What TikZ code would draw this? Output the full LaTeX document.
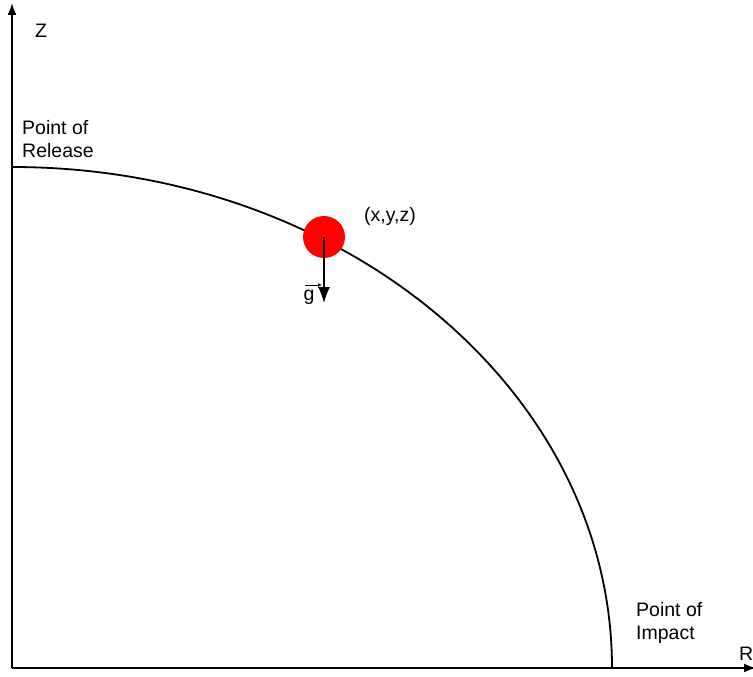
\documentclass[tikz,border=0pt]{standalone}
\usepackage{amsmath}
\usepackage{fontspec}
\setmainfont{Liberation Sans}
\usetikzlibrary{arrows.meta}
\tikzset{
  axis/.style={line width=1.8pt,-{Latex[length=12pt,width=9pt]}},
  path line/.style={line width=1.8pt},
  lbl/.style={font=\fontsize{19.5}{23.5}\selectfont,inner sep=0pt},
}
\begin{document}
\begin{tikzpicture}[x=1pt,y=-1pt]
\useasboundingbox (0,0) rectangle (753,677);
\coordinate (O) at (12,668);
\coordinate (Ztop) at (12,3);
\coordinate (Rend) at (756,668);
\coordinate (Rel) at (12,167);
\draw[axis] (O) -- (Ztop);
\draw[axis] (O) -- (Rend);
\draw[path line] (Rel) arc (-90:0:600 and 501) coordinate (Imp);
\node[lbl] (zlbl) at (41,31) {Z};
\node[lbl,anchor=south west] (rlbl) at (739,661) {R};
\node[lbl,align=left,anchor=north west] (rel) at (22,120) {Point of\\Release};
\node[lbl,align=left,anchor=north west] (imp) at (636,602) {Point of\\Impact};
\fill[red] (324,237) circle (21pt) coordinate (ball);
\node[lbl] (pos) at (390,216) {(x,y,z)};
\coordinate (gend) at (324,303);
\draw[line width=1.5pt,-{Latex[length=16pt,width=12pt]}] (ball) -- (gend);
\node[lbl,anchor=base] (g) at (309,300) {g};
\coordinate (gl) at (305,285);
\coordinate (gr) at (322,285);
\draw[line width=0.8pt,-{Latex[length=4pt,width=4pt]}] (gl) -- (gr);
\end{tikzpicture}
\end{document}
